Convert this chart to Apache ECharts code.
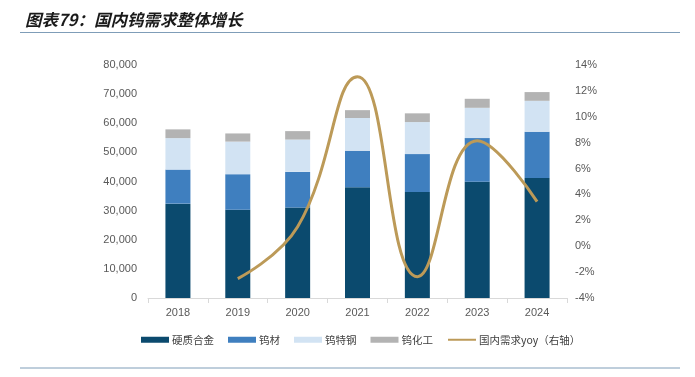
<!DOCTYPE html>
<html>
<head>
<meta charset="utf-8">
<script src="https://cdn.jsdelivr.net/npm/echarts@6/dist/echarts.min.js"></script>
<style>
  html, body { margin: 0; padding: 0; background: #fff; }
  #chart { width: 695px; height: 377px; }
</style>
</head>
<body>
<div id="chart"></div>
<script>
const years = ['2018', '2019', '2020', '2021', '2022', '2023', '2024'];
const hardAlloy = [32400, 30300, 31100, 38000, 36400, 39900, 41200];
const tungstenMaterial = [11700, 12200, 12200, 12600, 13000, 15000, 15900];
const tungstenSteel = [10800, 11200, 11100, 11200, 11000, 10400, 10600];
const tungstenChem = [3000, 2800, 2900, 2700, 3000, 3100, 3000];
const domesticYoy = [null, -2.5, 1.5, 13.1, -2.35, 8.15, 3.45];

const chart = echarts.init(document.getElementById('chart'));

const labelFont = { color: '#595959', fontSize: 11, fontFamily: 'Liberation Sans, Arial, sans-serif' };

chart.setOption({
  animation: false,
  color: ['#0b4a6e', '#3f7fbf', '#d2e3f3', '#b3b3b3', '#bc9a58'],
  title: {
    text: '图表79：国内钨需求整体增长',
    left: 20,
    top: 6,
    textStyle: {
      fontSize: 16.5,
      fontWeight: 'bold',
      fontStyle: 'italic',
      color: '#1a1a1a',
      fontFamily: 'Noto Sans CJK SC'
    }
  },
  graphic: [
    { type: 'line', shape: { x1: 20, y1: 32.5, x2: 680, y2: 32.5 }, style: { stroke: '#7f9db8', lineWidth: 1 } },
    { type: 'line', shape: { x1: 20, y1: 368, x2: 680, y2: 368 }, style: { stroke: '#7f9db8', lineWidth: 1 } }
  ],
  legend: {
    bottom: 27,
    left: 136,
    itemWidth: 28,
    itemHeight: 6,
    itemGap: 14,
    textStyle: { color: '#404040', fontSize: 10.5, fontFamily: 'Noto Sans CJK SC', padding: [0, 0, 0, -2] },
    data: [
      { name: '硬质合金', icon: 'rect' },
      { name: '钨材', icon: 'rect' },
      { name: '钨特钢', icon: 'rect' },
      { name: '钨化工', icon: 'rect' },
      { name: '国内需求yoy（右轴）', itemStyle: { opacity: 0 } }
    ]
  },
  grid: { left: 148, right: 128, top: 65, bottom: 79 },
  xAxis: {
    type: 'category',
    data: years,
    axisLine: { lineStyle: { color: '#d9d9d9' } },
    axisTick: { show: true, lineStyle: { color: '#d9d9d9' } },
    axisLabel: Object.assign({ margin: 9 }, labelFont)
  },
  yAxis: [
    {
      type: 'value',
      min: 0,
      max: 80000,
      interval: 10000,
      splitLine: { show: false },
      axisLine: { show: false },
      axisTick: { show: false },
      axisLabel: Object.assign({
        margin: 11,
        formatter: v => v.toLocaleString('en-US')
      }, labelFont)
    },
    {
      type: 'value',
      min: -4,
      max: 14,
      interval: 2,
      splitLine: { show: false },
      axisLine: { show: false },
      axisTick: { show: false },
      axisLabel: Object.assign({ margin: 8, formatter: '{value}%' }, labelFont)
    }
  ],
  series: [
    { name: '硬质合金', type: 'bar', stack: 'total', barWidth: 25, data: hardAlloy },
    { name: '钨材', type: 'bar', stack: 'total', data: tungstenMaterial },
    { name: '钨特钢', type: 'bar', stack: 'total', data: tungstenSteel },
    { name: '钨化工', type: 'bar', stack: 'total', data: tungstenChem },
    {
      name: '国内需求yoy（右轴）',
      type: 'line',
      yAxisIndex: 1,
      smooth: 0.45,
      symbol: 'none',
      lineStyle: { width: 3 },
      data: domesticYoy
    }
  ]
});
</script>
</body>
</html>
